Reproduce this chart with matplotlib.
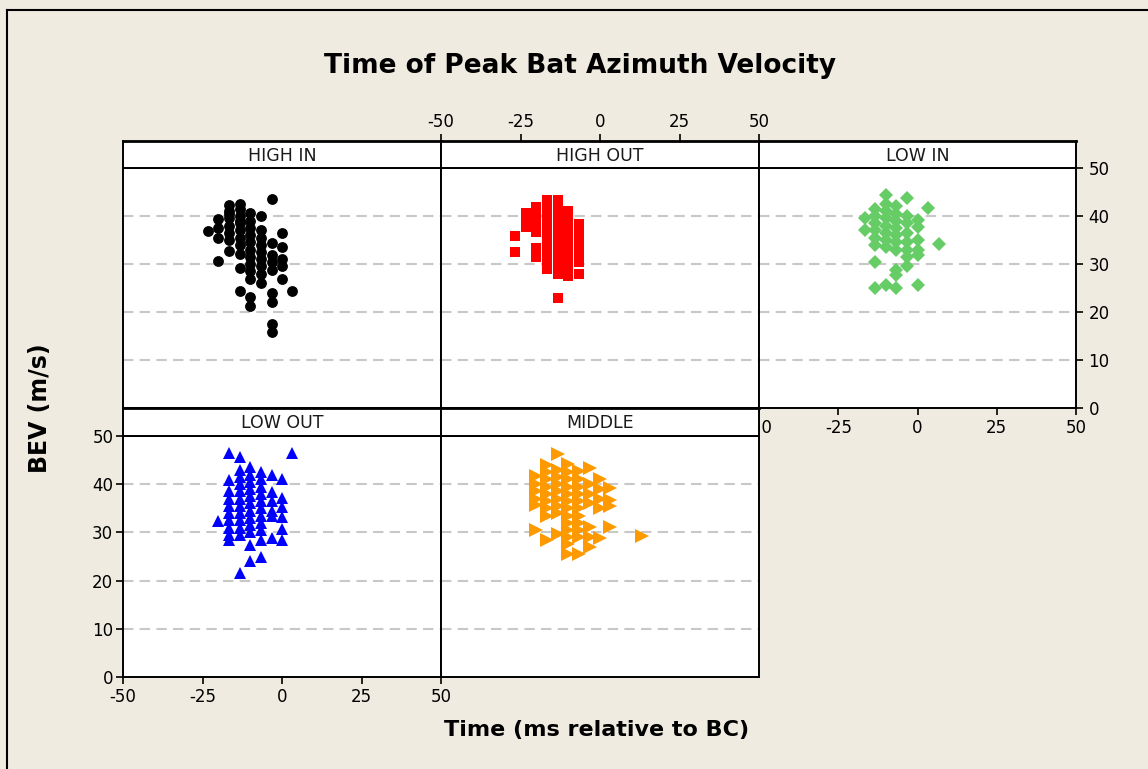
import matplotlib
matplotlib.use("Agg")
import matplotlib.pyplot as plt
from matplotlib.lines import Line2D

# ---------------- data (time in ms relative to BC, BEV in m/s) ----------------
panel_names = ["HIGH IN", "HIGH OUT", "LOW IN", "LOW OUT", "MIDDLE"]

high_in_t = [-23.3, -20.0, -16.7, -13.3, -10.0, -6.7, -3.3, 0.0, 3.3]
high_in_bev = [
    [36.9],
    [39.3, 37.5, 35.5, 30.7],
    [42.3, 41.0, 40.5, 39.5, 38.0, 36.5, 35.0, 32.8],
    [42.6, 41.5, 40.0, 39.0, 38.5, 37.0, 35.5, 34.0, 32.0, 29.1, 24.4],
    [40.7, 39.0, 37.5, 36.0, 34.5, 33.0, 31.5, 30.0, 28.5, 26.8, 23.2, 21.3],
    [39.9, 37.0, 35.5, 34.0, 32.5, 31.0, 29.5, 28.0, 26.0],
    [43.5, 34.4, 31.9, 30.5, 28.7, 23.9, 22.1, 17.6, 15.9],
    [36.5, 33.5, 31.0, 29.6, 26.8],
    [24.4],
]

high_out_t = [-26.7, -23.3, -20.0, -16.7, -13.3, -10.0, -6.7]
high_out_bev = [
    [35.8, 32.4],
    [40.7, 39.0, 37.8],
    [41.9, 40.0, 38.5, 36.7, 33.3, 31.5],
    [43.3, 42.0, 40.5, 39.0, 37.5, 36.0, 34.5, 33.0, 31.5, 30.0, 29.0],
    [43.3, 41.5, 40.0, 38.5, 37.0, 35.5, 34.0, 32.5, 31.0, 29.5, 28.0, 22.9],
    [41.0, 39.5, 38.0, 36.5, 35.0, 33.5, 32.0, 30.5, 29.0, 27.5],
    [38.3, 36.5, 35.0, 33.5, 32.0, 30.5, 28.0],
]

low_in_t = [-16.7, -13.3, -10.0, -6.7, -3.3, 0.0, 3.3, 6.7]
low_in_bev = [
    [39.5, 37.1],
    [41.5, 40.0, 38.5, 37.0, 35.5, 34.0, 30.5, 25.1],
    [44.4, 42.5, 41.0, 39.5, 38.0, 36.5, 35.0, 33.5, 25.6],
    [42.0, 40.5, 39.0, 37.5, 36.0, 34.5, 33.0, 28.7, 27.7, 25.1],
    [43.7, 40.0, 38.5, 36.5, 34.5, 33.0, 31.5, 29.6],
    [39.2, 37.8, 35.0, 33.0, 31.9, 25.6],
    [41.6],
    [34.1],
]

low_out_t = [-20.0, -16.7, -13.3, -10.0, -6.7, -3.3, 0.0, 3.3]
low_out_bev = [
    [32.4],
    [46.5, 40.9, 38.5, 37.0, 35.5, 34.0, 32.5, 31.0, 29.5, 28.5],
    [45.7, 43.0, 41.5, 40.0, 38.5, 37.0, 35.5, 34.0, 32.5, 31.0, 29.5, 21.5],
    [43.5, 42.0, 40.5, 39.0, 37.5, 36.0, 34.5, 33.0, 31.5, 30.0, 27.4, 24.1],
    [42.5, 41.0, 39.5, 38.0, 36.5, 35.0, 33.5, 32.0, 30.5, 28.5, 25.0],
    [41.9, 38.4, 36.5, 34.5, 33.3, 28.8],
    [41.0, 37.1, 35.3, 33.1, 30.8, 28.4],
    [46.5],
]

middle_t = [-20.0, -16.7, -13.3, -10.0, -6.7, -3.3, 0.0, 3.3, 13.3]
middle_bev = [
    [41.6, 40.0, 38.5, 37.0, 35.7, 30.5],
    [43.9, 42.5, 41.0, 39.5, 38.0, 36.5, 35.0, 33.5, 28.4],
    [46.3, 43.0, 41.5, 40.0, 38.5, 37.0, 35.5, 34.0, 29.6],
    [44.1, 42.5, 41.0, 39.5, 38.0, 36.5, 35.0, 33.5, 32.0, 30.5, 29.0, 27.5, 25.6],
    [42.8, 41.0, 39.5, 38.0, 36.5, 35.0, 33.5, 32.0, 30.5, 29.0, 25.6],
    [43.4, 40.0, 38.0, 36.0, 31.1, 29.0, 27.0],
    [41.1, 39.0, 37.0, 35.0, 28.8],
    [39.2, 36.8, 35.5, 31.1],
    [29.3],
]

x_ticks = [-50, -25, 0, 25, 50]
y_ticks = [0, 10, 20, 30, 40, 50]
grid_levels = [10, 20, 30, 40]

# ---------------- styling ----------------
W, H = 1148, 769
BG = "#EFEBE0"
plt.rcParams["font.family"] = ["DejaVu Sans"]
plt.rcParams["axes.unicode_minus"] = False

fig = plt.figure(figsize=(W / 100, H / 100), dpi=100, facecolor=BG)


def rect(x0, y0, x1, y1):
    return [x0 / W, 1 - y1 / H, (x1 - x0) / W, (y1 - y0) / H]


cols = [(123, 441), (441, 759), (759, 1076)]
top_plot, top_strip = (168, 408), (141, 168)
bot_plot, bot_strip = (436, 677), (408, 436)

panels = [
    ("HIGH IN", high_in_t, high_in_bev, "o", 7.8, "#000000", cols[0], top_plot, top_strip),
    ("HIGH OUT", high_out_t, high_out_bev, "s", 7.0, "#FF0000", cols[1], top_plot, top_strip),
    ("LOW IN", low_in_t, low_in_bev, "D", 6.8, "#66CC66", cols[2], top_plot, top_strip),
    ("LOW OUT", low_out_t, low_out_bev, "^", 9.0, "#0000FF", cols[0], bot_plot, bot_strip),
    ("MIDDLE", middle_t, middle_bev, ">", 9.5, "#FF9900", cols[1], bot_plot, bot_strip),
]

SPINE_LW = 1.4
TICK_KW = dict(length=5, width=1.2, labelsize=12, color="black", labelcolor="black")

axes = {}
for name, ts, groups, mk, ms, col, (cx0, cx1), (py0, py1), (sy0, sy1) in panels:
    ax = fig.add_axes(rect(cx0, py0, cx1, py1))
    ax.set_facecolor("white")
    ax.set_xlim(-50, 50)
    ax.set_ylim(0, 50)
    for sp in ax.spines.values():
        sp.set_linewidth(SPINE_LW)
    ax.set_xticks(x_ticks)
    ax.set_yticks(y_ticks)
    for g in grid_levels:
        ax.axhline(g, color="#C8C8C8", lw=1.5, linestyle=(0, (5, 3)), zorder=0.5)
    xs, ys = [], []
    for t, vals in zip(ts, groups):
        for v in vals:
            xs.append(t)
            ys.append(v)
    ax.plot(xs, ys, linestyle="none", marker=mk, markersize=ms, color=col,
            markeredgewidth=0, zorder=3)
    ax.tick_params(axis="both", which="both", bottom=False, top=False, left=False,
                   right=False, labelbottom=False, labelleft=False, direction="out",
                   **TICK_KW)

    sax = fig.add_axes(rect(cx0, sy0, cx1, sy1))
    sax.set_facecolor("white")
    sax.set_xlim(-50, 50)
    sax.set_ylim(0, 1)
    for sp in sax.spines.values():
        sp.set_linewidth(SPINE_LW)
    sax.spines["top"].set_linewidth(2.0)
    sax.set_yticks([])
    sax.set_xticks(x_ticks)
    sax.tick_params(axis="x", bottom=False, top=False, labelbottom=False,
                    labeltop=False, direction="out", **TICK_KW)
    sax.text(0, 0.45, name, ha="center", va="center", fontsize=12.5, color="#1A1A1A")
    axes[name] = (ax, sax)

# HIGH OUT: top tick labels on its strip
_, s_ho = axes["HIGH OUT"]
s_ho.tick_params(axis="x", top=True, labeltop=True, pad=2)

# LOW IN: bottom and right axes
a_li, _ = axes["LOW IN"]
a_li.tick_params(axis="x", bottom=True, labelbottom=True, pad=3)
a_li.tick_params(axis="y", right=True, labelright=True, pad=4)

# LOW OUT: left and bottom axes
a_lo, _ = axes["LOW OUT"]
a_lo.tick_params(axis="x", bottom=True, labelbottom=True, pad=3)
a_lo.tick_params(axis="y", left=True, labelleft=True, pad=2)

# later axes draw on top so the MIDDLE strip hides part of LOW IN's "-50"
for i, name in enumerate(panel_names):
    ax, sax = axes[name]
    ax.set_zorder(1 + i)
    sax.set_zorder(1 + i)

# ---------------- titles ----------------
fig.text(580 / W, 1 - 66 / H, "Time of Peak Bat Azimuth Velocity", ha="center",
         va="center", fontsize=19, fontweight="bold", color="black")
fig.text(597 / W, 1 - 730 / H, "Time (ms relative to BC)", ha="center", va="center",
         fontsize=16, fontweight="bold", color="black")
fig.text(40 / W, 1 - 408 / H, "BEV (m/s)", ha="center", va="center", rotation=90,
         fontsize=17, fontweight="bold", color="black")

# outer frame lines (top and left)
fig.add_artist(Line2D([7 / W, 1.0], [1 - 10 / H, 1 - 10 / H], color="black", lw=1.5,
                      transform=fig.transFigure))
fig.add_artist(Line2D([7 / W, 7 / W], [0, 1 - 10 / H], color="black", lw=1.5,
                      transform=fig.transFigure))

fig.savefig("out.png", dpi=100, facecolor=BG)
